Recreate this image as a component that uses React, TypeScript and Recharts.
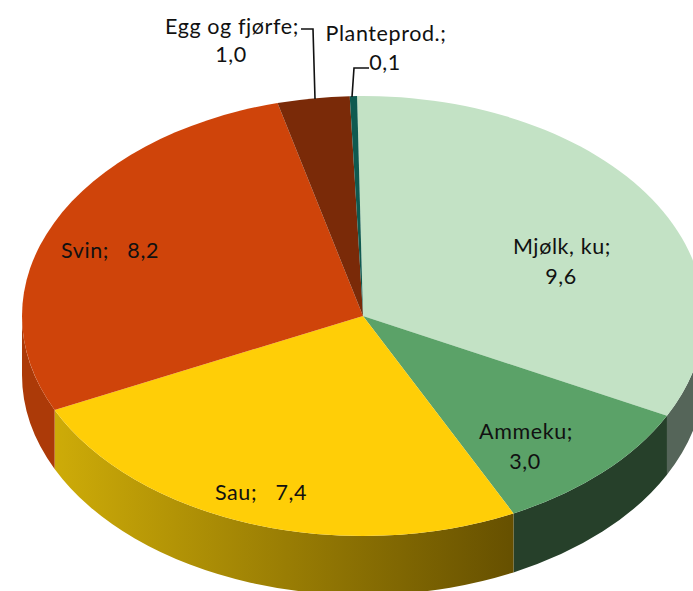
import React from "react";
import { PieChart, Pie, Cell } from "recharts";

const categories = ["Mjølk, ku", "Ammeku", "Sau", "Svin", "Egg og fjørfe", "Planteprod."];
const values = [9.6, 3.0, 7.4, 8.2, 1.0, 0.1];

const topColors = ["#c3e2c5", "#5ba268", "#ffce07", "#cf440a", "#7a2a08", "#0f5a50"];
const wallColors = ["#556559", "#26402a", "url(#sauWall)", "#ac3a08", "#5a1f06", "#0a3f38"];

const data = categories.map((name, i) => ({ name, value: values[i], index: i }));

const CX = 363;
const CY = 316;
const RX = 341;
const RATIO = 220 / 341;
const DEPTH = 59;

type Line = { text: string; x: number; y: number };
const labelLayout: { lines: Line[]; leader?: string }[] = [
  { lines: [{ text: "Mjølk, ku;", x: 562, y: 246 }, { text: "9,6", x: 561, y: 276 }] },
  { lines: [{ text: "Ammeku;", x: 526, y: 431 }, { text: "3,0", x: 525, y: 461 }] },
  { lines: [{ text: "Sau;   7,4", x: 261, y: 492 }] },
  { lines: [{ text: "Svin;   8,2", x: 110, y: 250 }] },
  {
    lines: [{ text: "Egg og fjørfe;", x: 232, y: 26 }, { text: "1,0", x: 231, y: 54 }],
    leader: "301,29 313,29 315,99",
  },
  {
    lines: [{ text: "Planteprod.;", x: 386, y: 33 }, { text: "0,1", x: 385, y: 62 }],
    leader: "369,68 354,68 352,97",
  },
];

const SliceShape = (props: any) => {
  const { cx, cy, outerRadius, startAngle, endAngle, fill, payload } = props;
  const rx = outerRadius;
  const ry = outerRadius * RATIO;
  const pt = (deg: number, dy = 0) => {
    const a = (deg * Math.PI) / 180;
    return `${cx + rx * Math.cos(a)} ${cy - ry * Math.sin(a) + dy}`;
  };
  const large = Math.abs(startAngle - endAngle) > 180 ? 1 : 0;
  const hi = Math.min(startAngle, 0);
  const lo = Math.max(endAngle, -180);
  const idx = payload?.index ?? props.index;
  return (
    <g>
      <linearGradient id="sauWall" gradientUnits="userSpaceOnUse" x1="57" y1="0" x2="514" y2="0">
        <stop offset="0" stopColor="#cdab08" />
        <stop offset="1" stopColor="#665000" />
      </linearGradient>
      {hi > lo && (
        <path
          d={`M ${pt(hi)} A ${rx} ${ry} 0 0 1 ${pt(lo)} L ${pt(lo, DEPTH)} A ${rx} ${ry} 0 0 0 ${pt(hi, DEPTH)} Z`}
          fill={wallColors[idx]}
        />
      )}
      <path d={`M ${cx} ${cy} L ${pt(startAngle)} A ${rx} ${ry} 0 ${large} 1 ${pt(endAngle)} Z`} fill={fill} />
    </g>
  );
};

const SliceLabel = (props: any) => {
  const layout = labelLayout[props.index];
  return (
    <g>
      {layout.leader && <polyline points={layout.leader} fill="none" stroke="#111" strokeWidth={1.6} />}
      {layout.lines.map((l) => (
        <text
          key={l.text}
          x={l.x}
          y={l.y}
          textAnchor="middle"
          dominantBaseline="central"
          fontFamily="Lato, Carlito, sans-serif"
          fontSize={21.5}
          letterSpacing={0.6}
          fill="#111"
          style={{ whiteSpace: "pre" }}
        >
          {l.text}
        </text>
      ))}
    </g>
  );
};

export default function App() {
  return (
    <>
      <style>{"body{margin:0}"}</style>
      <PieChart width={693} height={591} margin={{ top: 0, right: 0, bottom: 0, left: 0 }}>
        <Pie
          data={data}
          dataKey="value"
          nameKey="name"
          cx={CX}
          cy={CY}
          innerRadius={0}
          outerRadius={RX}
          startAngle={91}
          endAngle={-269}
          stroke="none"
          shape={SliceShape}
          label={SliceLabel}
          labelLine={false}
          isAnimationActive={false}
        >
          {data.map((d, i) => (
            <Cell key={d.name} fill={topColors[i]} />
          ))}
        </Pie>
      </PieChart>
    </>
  );
}
